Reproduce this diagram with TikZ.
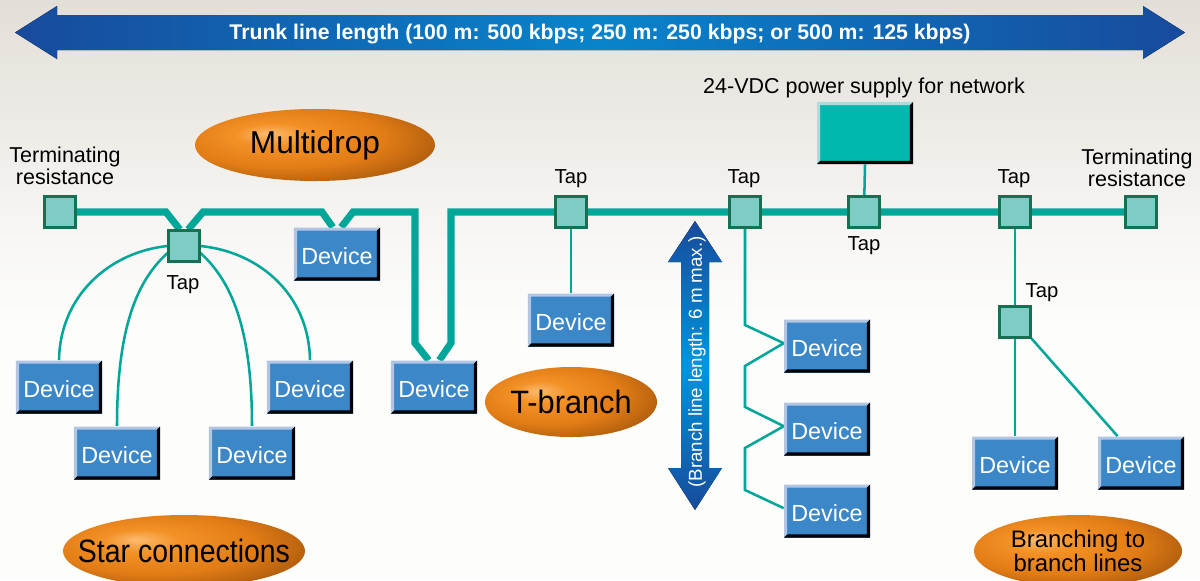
\documentclass[tikz,border=0pt]{standalone}
\usepackage{fontspec}
\usepackage{graphicx}
\setmainfont{Liberation Sans}
\usetikzlibrary{calc,shapes.geometric}
\definecolor{bgtop}{RGB}{227,222,215}
\definecolor{bgmid}{RGB}{248,247,245}
\definecolor{bgbot}{RGB}{253,253,252}
\definecolor{trunkteal}{RGB}{0,166,152}
\definecolor{tapfill}{RGB}{126,204,198}
\definecolor{tapedge}{RGB}{22,112,82}
\definecolor{devblue}{RGB}{59,135,200}
\definecolor{devlight}{RGB}{178,198,228}
\definecolor{psufill}{RGB}{0,184,174}
\definecolor{psulight}{RGB}{170,222,218}
\definecolor{arrdark}{RGB}{24,74,156}
\definecolor{arrlight}{RGB}{8,132,204}
\definecolor{arrlight2}{RGB}{0,150,220}
\definecolor{orhi}{RGB}{252,186,110}
\definecolor{ormid}{RGB}{243,145,38}
\definecolor{ormid2}{RGB}{226,124,22}
\definecolor{ordark1}{RGB}{180,96,14}
\definecolor{ordark}{RGB}{128,68,6}
\pgfdeclareradialshading{orng}{\pgfpoint{-10bp}{8bp}}{color(0bp)=(orhi); color(8bp)=(ormid); color(21bp)=(ormid2); color(31bp)=(ordark1); color(42bp)=(ordark); color(60bp)=(ordark)}
\pgfdeclarelayer{back}
\pgfdeclarelayer{wires}
\pgfsetlayers{back,wires,main}
\tikzset{
  bevel/.style 2 args={path picture={
    \fill[#1] (path picture bounding box.south west) -- (path picture bounding box.north west)
      -- (path picture bounding box.north east) -- ([shift={(-2.2pt,-2.2pt)}]path picture bounding box.north east)
      -- ([shift={(2.2pt,-2.2pt)}]path picture bounding box.north west) -- ([shift={(2.2pt,2.2pt)}]path picture bounding box.south west) -- cycle;
    \fill[#2] (path picture bounding box.north east) -- (path picture bounding box.south east)
      -- (path picture bounding box.south west) -- ([shift={(2.2pt,2.2pt)}]path picture bounding box.south west)
      -- ([shift={(-2.2pt,2.2pt)}]path picture bounding box.south east) -- ([shift={(-2.2pt,-2.2pt)}]path picture bounding box.north east) -- cycle;
  }},
  devbox/.style={rectangle, inner sep=0pt, minimum width=2.15cm, minimum height=1.325cm, fill=devblue,
    text=white, font=\fontsize{16.6}{18}\selectfont, text height=15pt, text depth=0pt, bevel={devlight}{black}},
  psubox/.style={rectangle, inner sep=0pt, minimum width=2.4cm, minimum height=1.55cm, fill=psufill,
    bevel={psulight}{black}},
  tapbox/.style={rectangle, draw=tapedge, line width=1.9pt, fill=tapfill, inner sep=0pt, minimum size=0.76cm},
  trunk/.style={draw=trunkteal, line width=5pt, line join=miter},
  branch/.style={draw=trunkteal, line width=1.8pt},
  oval/.style={ellipse, shading=orng, inner sep=0pt},
  ovaltext/.style={align=center, inner sep=0pt},
  lbl/.style={font=\fontsize{15.3}{16}\selectfont, align=center, inner sep=0pt},
  taplbl/.style={font=\fontsize{14.4}{15}\selectfont, inner sep=0pt},
}
\begin{document}
\begin{tikzpicture}[x=0.025cm,y=-0.025cm]
\useasboundingbox (0,0) rectangle (1200,580);
\clip (0,0) rectangle (1200,580);
\begin{pgfonlayer}{back}
  \fill[bgbot] (0,0) rectangle (1200,580);
  \fill[top color=bgtop, bottom color=bgmid] (0,0) rectangle (1200,240);
  \fill[top color=bgmid, bottom color=bgbot] (0,240) rectangle (1200,330);
  % trunk dimension arrow
  \fill[left color=arrdark, right color=arrdark, middle color=arrlight]
    (15,32.5) -- (57,6) -- (57,15) -- (1143,15) -- (1143,6) -- (1185,32.5)
    -- (1143,59) -- (1143,50) -- (57,50) -- (57,59) -- cycle;
  % branch dimension arrow
  \fill[top color=arrdark, bottom color=arrdark, middle color=arrlight2]
    (695,221) -- (722,262) -- (709,262) -- (709,468) -- (722,468) -- (695,510)
    -- (668,468) -- (681,468) -- (681,262) -- (668,262) -- cycle;
\end{pgfonlayer}

\node[font=\bfseries\fontsize{15.1}{17}\selectfont, text=white, inner sep=0pt] (title) at (600,34)
  {Trunk line length (100 m: 500 kbps; 250 m: 250 kbps; or 500 m: 125 kbps)};
\node[rotate=90, text=white, font=\fontsize{13.3}{15}\selectfont, inner sep=0pt] (blen) at (697,362)
  {(Branch line length: 6 m max.)};

% taps and terminators
\node[tapbox] (tl) at (60,212) {};
\node[tapbox] (stap) at (184,246) {};
\node[tapbox] (t1) at (571,212) {};
\node[tapbox] (t2) at (745,212) {};
\node[tapbox] (t3) at (864,212) {};
\node[tapbox] (t4) at (1015,212) {};
\node[tapbox] (tr) at (1141,212) {};
\node[tapbox] (btap) at (1015,322) {};
\node[psubox] (psu) at (865,133) {};

% devices
\node[devbox] (sd1) at (59,387) {Device};
\node[devbox] (sd2) at (117,453) {Device};
\node[devbox] (sd3) at (252,453) {Device};
\node[devbox] (sd4) at (310,387) {Device};
\node[devbox] (mdev) at (337,254) {Device};
\node[devbox] (tdev) at (434,387) {Device};
\node[devbox] (d1) at (571,320) {Device};
\node[devbox] (dc1) at (827,346) {Device};
\node[devbox] (dc2) at (827,429) {Device};
\node[devbox] (dc3) at (827,511) {Device};
\node[devbox] (bd1) at (1015,463) {Device};
\node[devbox] (bd2) at (1141,463) {Device};

% ovals
\node[oval, minimum width=6cm, minimum height=1.8cm] (multi) at (315,145) {};
\node[ovaltext, font=\fontsize{22.5}{24}\selectfont] (multit) at (multi.center) {Multidrop};
\node[oval, minimum width=4.3cm, minimum height=1.75cm] (tbr) at (571,402) {};
\node[ovaltext, font=\fontsize{23}{24}\selectfont] (tbrt) at (tbr.center) {\scalebox{0.95}[1]{T-branch}};
\node[oval, minimum width=6.05cm, minimum height=1.8cm] (star) at (184,551) {};
\node[ovaltext, font=\fontsize{23}{24}\selectfont] (start) at (star.center) {\scalebox{0.88}[1]{Star connections}};
\node[oval, minimum width=5.2cm, minimum height=1.8cm] (brl) at (1078,551) {};
\node[ovaltext, font=\fontsize{17}{17.2}\selectfont] (brlt) at (brl.center) {Branching to\\branch lines};

% labels
\node[lbl] (ltermlbl) at (65,166) {Terminating\\resistance};
\node[lbl] (rtermlbl) at (1137,168) {Terminating\\resistance};
\node[lbl] (psulbl) at (864,88) {24-VDC power supply for network};
\node[taplbl] (stapl) at (183,285) {Tap};
\node[taplbl] (t1l) at (571,179) {Tap};
\node[taplbl] (t2l) at (744,179) {Tap};
\node[taplbl] (t3l) at (864,246) {Tap};
\node[taplbl] (t4l) at (1014,179) {Tap};
\node[taplbl] (btapl) at (1042,293) {Tap};

\begin{pgfonlayer}{wires}
  % trunk line
  \draw[trunk] (tl.center) -- (166,212) -- ([xshift=-3pt]stap.north);
  \draw[trunk] ([xshift=3pt]stap.north) -- (203,212) -- (322,212) -- ([xshift=-3pt]mdev.north);
  \draw[trunk] ([xshift=3pt]mdev.north) -- (353,212) -- (415,212) -- (415,343) -- ([xshift=-3.8pt]tdev.north);
  \draw[trunk] ([xshift=3.8pt]tdev.north) -- (451,343) -- (451,212) -- (tr.center);
  % star connections
  \draw[branch] (stap.west) .. controls (110,252) and (60,295) .. (sd1.north);
  \draw[branch] ([yshift=-5pt]stap.west) .. controls (138,280) and (117,325) .. (sd2.north);
  \draw[branch] ([yshift=-5pt]stap.east) .. controls (230,280) and (252,325) .. (sd3.north);
  \draw[branch] (stap.east) .. controls (260,252) and (309,295) .. (sd4.north);
  % T-branch drop
  \draw[branch] (t1.center) -- (d1.north);
  % daisy chain
  \draw[branch] (t2.center) -- (745,325) -- ([yshift=2pt]dc1.west) -- (745,366) -- (745,407)
    -- ([yshift=2pt]dc2.west) -- (745,448) -- (745,490) -- ([yshift=2pt]dc3.west);
  % power supply
  \draw[branch] (psu.south) -- (t3.center);
  % branching to branch lines
  \draw[branch] (t4.center) -- (btap.center);
  \draw[branch] (btap.center) -- (bd1.north);
  \draw[branch] (btap.south east) -- ($(bd2.north west)!0.23!(bd2.north east)$);
\end{pgfonlayer}
\end{tikzpicture}
\end{document}
